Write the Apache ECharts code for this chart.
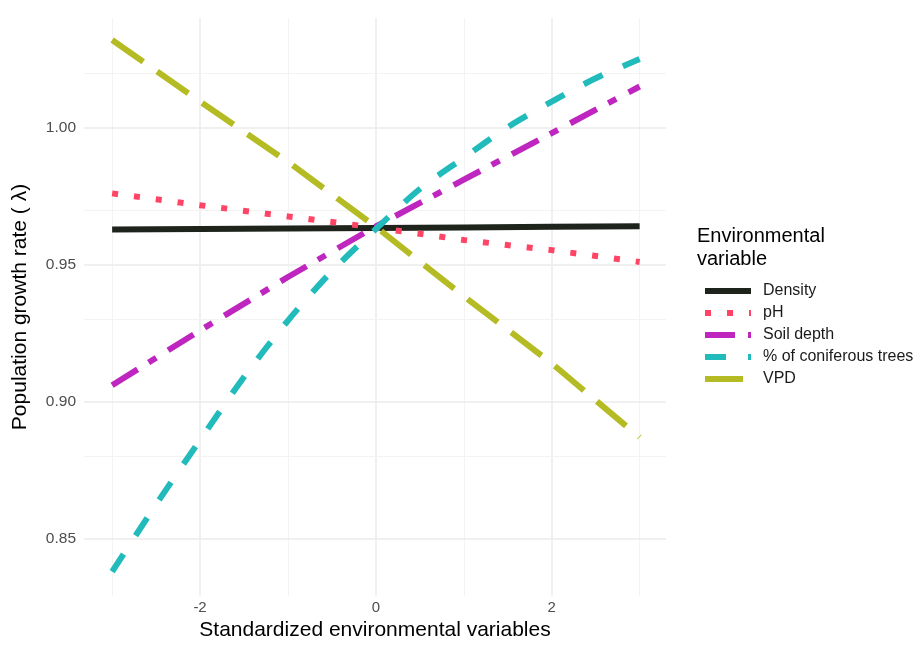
<!DOCTYPE html>
<html>
<head>
<meta charset="utf-8">
<script src="https://cdn.jsdelivr.net/npm/echarts@6/dist/echarts.min.js"></script>
<style>
    html, body { margin: 0; padding: 0; background: #fff; }
    #chart { width: 919px; height: 646px; }
</style>
</head>
<body>
<div id="chart"></div>
<script>
// x positions (standardized units)
var xs = [-3, -2, -1, 0, 1, 2, 3];
// the coniferous curve bends, so it is read at half steps
var xsConifer = [-3, -2.5, -2, -1.5, -1, -0.5, 0, 0.5, 1, 1.5, 2, 2.5, 3];

var density = [0.9628, 0.9630, 0.9632, 0.9634, 0.9636, 0.9638, 0.9640];
var ph = [0.9760, 0.9717, 0.9676, 0.9635, 0.9590, 0.9553, 0.9510];
var soilDepth = [0.906, 0.926, 0.9455, 0.964, 0.981, 0.998, 1.015];
var conifer = [0.838, 0.8625, 0.886, 0.909, 0.9296, 0.9476, 0.963,
    0.9776, 0.989, 1.0002, 1.0095, 1.018, 1.025];
var vpd = [1.032, 1.0095, 0.9875, 0.9638, 0.9385, 0.914, 0.887];

var seriesNames = ['Density', 'pH', 'Soil depth', '% of coniferous trees', 'VPD'];

var xLabelTicks = [-2, 0, 2];
var xMinorTicks = [-3, -1, 1, 3];
var yLabelTicks = [0.85, 0.90, 0.95, 1.00];
var yMinorTicks = [0.875, 0.925, 0.975, 1.025];

function pairs(x, y) {
    return x.map(function (v, i) {
        return [v, y[i]];
    });
}

function gridLines() {
    var out = [];
    var major = {color: '#ebebeb', width: 1.5, type: 'solid'};
    var minor = {color: '#f2f2f2', width: 0.9, type: 'solid'};
    xLabelTicks.forEach(function (v) {
        out.push({xAxis: v, lineStyle: major});
    });
    xMinorTicks.forEach(function (v) {
        out.push({xAxis: v, lineStyle: minor});
    });
    yLabelTicks.forEach(function (v) {
        out.push({yAxis: v, lineStyle: major});
    });
    yMinorTicks.forEach(function (v) {
        out.push({yAxis: v, lineStyle: minor});
    });
    return out;
}

var styles = [
    {color: '#1e231b', type: 'solid'},
    {color: '#ff4466', type: [6, 16]},
    {color: '#bf26bf', type: [30, 13, 9, 14]},
    {color: '#22bbbb', type: [21, 22]},
    {color: '#b5bb22', type: [38, 17]}
];
var dataSets = [
    pairs(xs, density),
    pairs(xs, ph),
    pairs(xs, soilDepth),
    pairs(xsConifer, conifer),
    pairs(xs, vpd)
];

var series = [{
    name: 'grid',
    type: 'line',
    data: [],
    silent: true,
    markLine: {
        silent: true,
        symbol: 'none',
        label: {show: false},
        emphasis: {disabled: true},
        animation: false,
        data: gridLines()
    }
}];
seriesNames.forEach(function (name, i) {
    series.push({
        name: name,
        type: 'line',
        data: dataSets[i],
        symbol: 'none',
        smooth: i === 3 ? 0.3 : false,
        zlevel: 1,
        color: styles[i].color,
        lineStyle: {
            color: styles[i].color,
            width: 6,
            type: styles[i].type,
            cap: 'butt'
        },
        emphasis: {disabled: true}
    });
});

var chart = echarts.init(document.getElementById('chart'));
chart.setOption({
    animation: false,
    backgroundColor: '#fff',
    textStyle: {fontFamily: 'Liberation Sans'},
    grid: {left: 84, right: 253, top: 18, bottom: 48},
    title: {
        text: 'Environmental\nvariable',
        left: 692,
        top: 220,
        textStyle: {
            fontFamily: 'Liberation Sans',
            fontSize: 20,
            fontWeight: 'normal',
            color: '#000',
            lineHeight: 23
        }
    },
    legend: {
        orient: 'vertical',
        left: 697,
        top: 278,
        itemWidth: 46,
        itemHeight: 14,
        itemGap: 6,
        data: seriesNames,
        lineStyle: {width: 6},
        itemStyle: {color: 'rgba(0,0,0,0)', opacity: 0, borderWidth: 0},
        textStyle: {
            fontFamily: 'Liberation Sans',
            fontSize: 16,
            color: '#1a1a1a',
            padding: [0, 0, 0, 7]
        }
    },
    xAxis: {
        type: 'value',
        min: -3.32,
        max: 3.3,
        name: 'Standardized environmental variables',
        nameLocation: 'middle',
        nameGap: 24,
        nameTextStyle: {fontSize: 21, color: '#000', fontFamily: 'Liberation Sans'},
        axisLine: {show: false},
        axisTick: {show: false},
        splitLine: {show: false},
        axisLabel: {
            customValues: xLabelTicks,
            margin: 4,
            fontSize: 15,
            color: '#4d4d4d',
            fontFamily: 'Liberation Sans'
        }
    },
    yAxis: {
        type: 'value',
        min: 0.8291,
        max: 1.04,
        name: 'Population growth rate ( λ)',
        nameLocation: 'middle',
        nameGap: 53,
        nameTextStyle: {fontSize: 21, color: '#000', fontFamily: 'Liberation Sans'},
        axisLine: {show: false},
        axisTick: {show: false},
        splitLine: {show: false},
        axisLabel: {
            customValues: yLabelTicks,
            margin: 8,
            fontSize: 15.5,
            color: '#4d4d4d',
            fontFamily: 'Liberation Sans',
            formatter: function (v) {
                return v.toFixed(2);
            }
        }
    },
    series: series
});
</script>
</body>
</html>
